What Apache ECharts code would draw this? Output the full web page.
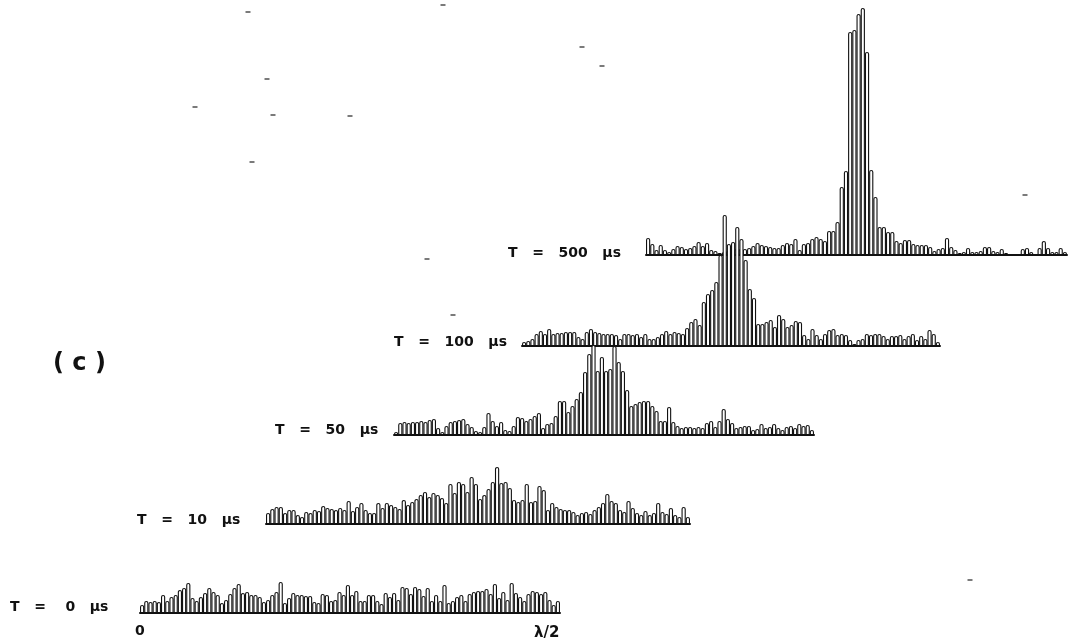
<!DOCTYPE html>
<html><head><meta charset="utf-8">
<script src="https://cdn.jsdelivr.net/npm/echarts@6/dist/echarts.min.js"></script>
<style>html,body{margin:0;padding:0;background:#fff}#c{width:1076px;height:644px}</style>
</head><body><div id="c"></div>
<script>
const t500 = [17,11,5,10,5,3,6,9,8,6,7,9,13,9,12,5,4,2,3,4,5,6,6,6,7,9,12,10,9,8,7,7,10,12,11,16,5,11,12,16,18,16,14,24,24,33,68,84,223,225,241,247,203,85,58,28,28,23,23,14,12,15,15,11,10,10,10,8,4,6,7,17,8,5,2,3,7,3,3,4,8,8,4,3,6,2,1,1,0.5,6,7,3,1,7,14,7,3,3,7,3];
const t100 = [4,5,7,12,15,12,17,12,13,13,14,14,14,9,7,14,17,14,13,12,12,12,11,7,12,12,11,12,9,12,7,7,9,12,15,12,14,13,12,18,24,27,21,44,52,56,64,91,131,102,104,119,107,86,57,48,22,22,24,26,19,31,27,19,21,25,24,11,7,17,11,7,12,16,17,11,12,11,6,2,6,7,12,11,12,12,10,7,10,10,11,7,10,12,6,10,7,16,12,4];
const t50 = [3,12,13,12,13,13,14,13,15,16,7,3,9,13,14,15,16,11,8,4,3,8,22,14,9,13,5,4,9,18,17,14,16,19,22,7,11,12,19,34,34,23,29,36,43,63,81,90,64,78,64,66,89,73,64,45,29,31,33,34,34,29,24,14,14,28,13,9,7,8,8,7,8,7,12,14,8,14,26,16,12,7,8,9,9,5,6,11,7,8,11,7,5,8,9,7,11,9,10,5];
const t10 = [11,15,17,17,11,14,14,9,7,12,11,14,13,18,16,15,14,16,14,23,13,17,21,14,11,11,21,16,21,19,17,15,24,19,22,25,29,32,27,31,29,26,21,40,31,42,40,32,47,40,25,29,35,42,57,41,42,36,24,22,24,40,22,23,38,34,14,21,17,15,14,14,12,9,11,12,10,14,17,21,30,23,21,14,12,23,16,11,9,13,9,11,21,12,10,16,9,7,17,7];
const t0 = [8,12,11,12,11,18,12,16,18,23,25,30,15,12,16,20,25,21,18,10,13,19,25,29,20,21,18,18,16,11,13,18,21,31,10,15,20,18,18,17,17,11,10,19,18,12,13,21,18,28,18,22,12,12,18,18,12,9,20,16,20,13,26,25,19,26,24,17,25,12,18,12,28,10,12,16,18,12,19,21,22,22,24,19,29,15,21,13,30,20,16,12,19,22,21,19,21,13,8,12];
const panelValues = [t500, t100, t50, t10, t0];
const panelLabels = ["T   =   500   μs", "T   =   100   μs", "T   =   50   μs", "T   =   10   μs", "T   =    0   μs"];
const panelNote = "( c )";
const endLabels = ["0", "λ/2"];
const specks = [[248,12],[443,5],[582,47],[602,66],[267,79],[195,107],[273,115],[350,116],[252,162],[1025,195],[427,259],[453,315],[970,580]];

// layout
const boxes = [[646,421,255],[522,418,346],[394,420,435],[266,424,524],[140,420,613]];
const labelPos = [[508,254],[394,343],[275,431],[137,521],[10,608]];
const yMax = 250;

const grid = [], xAxis = [], yAxis = [], series = [], graphic = [];
panelValues.forEach((vals, k) => {
  const [l, w, base] = boxes[k];
  grid.push({left:l, width:w, top:base-yMax, height:yMax, containLabel:false});
  xAxis.push({gridIndex:k, type:'category', data:vals.map((_,i)=>i), z:11+2*k,
    axisLine:{show:true, onZero:false, lineStyle:{color:'#111', width:2}},
    axisTick:{show:false}, axisLabel:{show:false}, splitLine:{show:false}});
  yAxis.push({gridIndex:k, type:'value', min:0, max:yMax, show:false, splitLine:{show:false}});
  series.push({type:'bar', xAxisIndex:k, yAxisIndex:k, data:vals, barCategoryGap:0, z:10+2*k, silent:true, animation:false,
    itemStyle:{color:'#fff', borderColor:'#111', borderWidth:1.1, borderRadius:[2,2,0,0]}});
  graphic.push({type:'text', left:labelPos[k][0], top:labelPos[k][1]-8, z:30,
    style:{text:panelLabels[k], font:'bold 14px "DejaVu Sans"', fill:'#111'}});
});
// full-canvas pixel grid for the stray print specks
const n = grid.length;
grid.push({left:0, top:0, width:1076, height:644});
xAxis.push({gridIndex:n, type:'value', min:0, max:1076, show:false, splitLine:{show:false}});
yAxis.push({gridIndex:n, type:'value', min:0, max:644, inverse:true, show:false, splitLine:{show:false}});
series.push({type:'scatter', xAxisIndex:n, yAxisIndex:n, data:specks, symbol:'rect', symbolSize:[5,1.5], silent:true, animation:false, itemStyle:{color:'#222'}, z:1});

graphic.push({type:'text', left:53, top:352, z:30, style:{text:panelNote, font:'bold 24px "DejaVu Sans"', fill:'#111'}});
graphic.push({type:'text', left:135, top:624, z:30, style:{text:endLabels[0], font:'bold 14px "DejaVu Sans"', fill:'#111'}});
graphic.push({type:'text', left:534, top:626, z:30, style:{text:endLabels[1], font:'bold 15px "DejaVu Sans"', fill:'#111'}});

const chart = echarts.init(document.getElementById('c'), null, {renderer:'canvas'});
chart.setOption({backgroundColor:'#fff', animation:false, grid, xAxis, yAxis, series, graphic});
</script></body></html>
